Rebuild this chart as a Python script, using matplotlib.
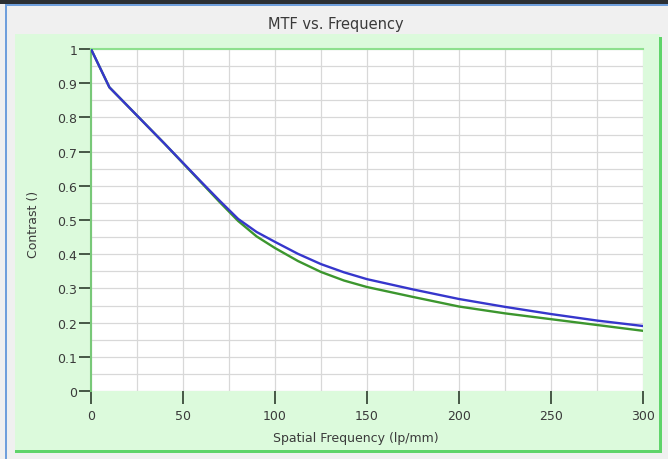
# MTF vs. Frequency chart

import matplotlib
matplotlib.use('Agg')
import matplotlib.pyplot as plt
from matplotlib.patches import Rectangle

# Data
freq = [0, 10, 20, 30, 40, 50, 60, 70, 80, 90, 100, 112.5, 125, 137.5, 150,
        175, 200, 225, 250, 275, 300]
mtf_blue = [1.0, 0.888, 0.833, 0.778, 0.723, 0.667, 0.611, 0.556, 0.503, 0.465,
            0.436, 0.401, 0.371, 0.347, 0.327, 0.297, 0.269, 0.246, 0.225, 0.206, 0.190]
mtf_green = [1.0, 0.888, 0.833, 0.778, 0.723, 0.666, 0.609, 0.552, 0.497, 0.452,
             0.418, 0.380, 0.348, 0.323, 0.304, 0.275, 0.247, 0.227, 0.210, 0.193, 0.176]

x_ticks = [0, 50, 100, 150, 200, 250, 300]
y_ticks = [0, 0.1, 0.2, 0.3, 0.4, 0.5, 0.6, 0.7, 0.8, 0.9, 1]
y_tick_labels = ['0', '0.1', '0.2', '0.3', '0.4', '0.5', '0.6', '0.7', '0.8', '0.9', '1']

W, H = 668, 460
fig = plt.figure(figsize=(W / 100, H / 100), dpi=100, facecolor='#f0f0f0')
plt.rcParams['font.family'] = ['DejaVu Sans']


def px_rect(x0, y0, x1, y1, color):
    # rectangle given in pixel coords (top-left origin)
    fig.patches.append(Rectangle((x0 / W, 1 - y1 / H), (x1 - x0) / W, (y1 - y0) / H,
                                 transform=fig.transFigure, facecolor=color,
                                 edgecolor='none', zorder=-5))


# window frame and green panel
px_rect(0, 0, W, 5, '#2b2f33')
px_rect(5, 5, W, 7, '#6f9fdc')
px_rect(5, 5, 7, H, '#6f9fdc')
px_rect(15, 35, 660, 451, '#dcfadc')
px_rect(15, 451, 661, 454, '#5fd46a')
px_rect(659, 38, 662, 454, '#5fd46a')

ax = fig.add_axes([91 / W, 1 - 392 / H, 552 / W, 342 / H])
ax.set_zorder(2)
ax.set_facecolor('white')

ax.plot(freq, mtf_green, color='#3c962e', linewidth=1.7, zorder=3)
ax.plot(freq, mtf_blue, color='#3636cc', linewidth=1.7, zorder=4)

ax.set_xlim(0, 300)
ax.set_ylim(0, 1)
ax.set_xticks(x_ticks)
ax.set_yticks(y_ticks)
ax.set_yticklabels(y_tick_labels)
ax.set_xticks(range(0, 301, 25), minor=True)
ax.set_yticks([i * 0.05 for i in range(21)], minor=True)
ax.grid(which='both', color='#d8d8d8', linewidth=0.9)
ax.tick_params(axis='both', which='minor', length=0)
ax.tick_params(axis='y', which='major', direction='out', length=9, width=1.3,
               color='#3a4a3a', labelsize=9, labelcolor='#3a3a3a', pad=1)
ax.tick_params(axis='x', which='major', direction='out', length=9, width=1.3,
               color='#3a4a3a', labelsize=9, labelcolor='#3a3a3a', pad=4)

for side in ['bottom', 'right']:
    ax.spines[side].set_visible(False)
ax.spines['left'].set_color('#78c878')
ax.spines['left'].set_linewidth(1.5)
ax.spines['top'].set_color('#8ee08e')
ax.spines['top'].set_linewidth(1.5)

fig.text(336 / W, 1 - 25 / H, 'MTF vs. Frequency', ha='center', va='center',
         fontsize=10.5, color='#3a3a3a')
fig.text(356 / W, 1 - 439 / H, 'Spatial Frequency (lp/mm)', ha='center', va='center',
         fontsize=9, color='#3a3a3a')
fig.text(33 / W, 1 - 224 / H, 'Contrast ()', ha='center', va='center',
         rotation=90, fontsize=9, color='#3a3a3a')

plt.savefig('out.png', dpi=100, facecolor=fig.get_facecolor())
